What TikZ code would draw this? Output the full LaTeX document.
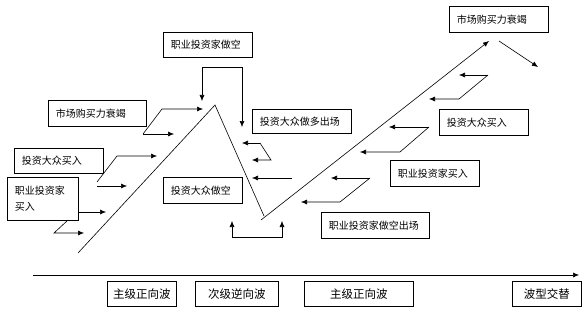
\documentclass[tikz,border=0pt]{standalone}
\usepackage{fontspec}
\setmainfont{Noto Sans CJK SC}
\usetikzlibrary{arrows.meta}
\begin{document}
\begin{tikzpicture}[x=1pt,y=-1pt,
  line width=0.6pt,
  arr/.style={-{Latex[length=6pt,width=5pt]}},
  lbox/.style={draw, anchor=north west, inner xsep=7.5pt, inner ysep=0pt, align=left, font=\fontsize{10}{16}\selectfont},
  bbox/.style={draw, anchor=north west, inner sep=0pt, align=center, minimum height=25pt, font=\fontsize{11.5}{14}\selectfont}]
\useasboundingbox (0,0) rectangle (588,310);
% boxes
\node[lbox, text width=74pt, minimum height=25pt] (A) at (163,32) {职业投资家做空};
\node[lbox, text width=83pt, minimum height=26pt] (B) at (48,100) {市场购买力衰竭};
\node[lbox, text width=84pt, minimum height=24pt] (C) at (252,109) {投资大众做多出场};
\node[lbox, text width=74pt, minimum height=25pt] (D) at (14,148) {投资大众买入};
\node[lbox, text width=56pt, minimum height=43pt] (E) at (7,177) {职业投资家\\买入};
\node[lbox, text width=64pt, minimum height=26pt] (F) at (163,177) {投资大众做空};
\node[lbox, text width=93pt, minimum height=26pt] (G) at (321,212) {职业投资家做空出场};
\node[lbox, text width=74pt, minimum height=26pt] (H) at (390,160) {职业投资家买入};
\node[lbox, text width=74pt, minimum height=26pt] (I) at (439,109) {投资大众买入};
\node[lbox, text width=84pt, minimum height=26pt] (J) at (449,6) {市场购买力衰竭};
% bottom boxes
\node[bbox, minimum width=69pt] (K1) at (107,281) {主级正向波};
\node[bbox, minimum width=83pt] (K2) at (195,281) {次级逆向波};
\node[bbox, minimum width=109pt] (K3) at (304,281) {主级正向波};
\node[bbox, minimum width=69pt] (K4) at (512,281) {波型交替};
% axis
\coordinate (ax0) at (33,275); \coordinate (ax1) at (579,275);
\draw[arr] (ax0) -- (ax1);
% main zigzag
\coordinate (z0) at (78,253); \coordinate (z1) at (215,105);
\coordinate (z2) at (264,216); \coordinate (z3) at (261,220);
\coordinate (z4) at (489,41);
\draw (z0) -- (z1) -- (z2);
\draw[arr] (z3) -- (z4);
% top right arrow
\coordinate (t0) at (499,41); \coordinate (t1) at (538,67);
\draw[arr] (t0) -- (t1);
% left group 1
\coordinate (a0) at (143,134); \coordinate (a1) at (162,109);
\coordinate (a2) at (203,109); \coordinate (a3) at (174,134);
\draw[arr] (a0) -- (a1) -- (a2);
\draw[arr] (a0) -- (a3);
% left group 2
\coordinate (b0) at (97,182); \coordinate (b1) at (117,156);
\coordinate (b2) at (157,156); \coordinate (b3) at (97,186);
\coordinate (b4) at (127,186);
\draw[arr] (b0) -- (b1) -- (b2);
\draw[arr] (b3) -- (b4);
% left group 3
\coordinate (c0) at (78,212); \coordinate (c1) at (106,212);
\coordinate (c2) at (68,220); \coordinate (c3) at (54,233);
\coordinate (c4) at (84,233);
\draw[arr] (c0) -- (c1);
\draw[arr] (c2) -- (c3) -- (c4);
% top bracket
\coordinate (d0) at (202,67); \coordinate (d1) at (242,67);
\coordinate (d2) at (202,101); \coordinate (d3) at (242,127);
\draw[arr] (d1) -- (d0) -- (d2);
\draw[arr] (d0) -- (d1) -- (d3);
% middle arrows
\coordinate (e0) at (260,143); \coordinate (e1) at (242,143);
\coordinate (e2) at (271,160); \coordinate (e3) at (252,160);
\draw[arr] (e0) -- (e1);
\draw[arr] (e0) -- (e2) -- (e3);
\coordinate (f0) at (292,178); \coordinate (f1) at (252,178);
\draw[arr] (f0) -- (f1);
% bottom bracket
\coordinate (g0) at (232,237); \coordinate (g1) at (282,237);
\coordinate (g2) at (232,221); \coordinate (g3) at (282,221);
\draw[arr] (g1) -- (g0) -- (g2);
\draw[arr] (g0) -- (g1) -- (g3);
% right groups
\coordinate (r10) at (488,75); \coordinate (r11) at (459,75);
\coordinate (r12) at (459,99); \coordinate (r13) at (429,99);
\draw[arr] (r10) -- (r11);
\draw[arr] (r10) -- (r12) -- (r13);
\coordinate (r20) at (429,127); \coordinate (r21) at (389,127);
\coordinate (r22) at (400,152); \coordinate (r23) at (360,152);
\draw[arr] (r20) -- (r21);
\draw[arr] (r20) -- (r22) -- (r23);
\coordinate (r30) at (370,178); \coordinate (r31) at (331,178);
\coordinate (r32) at (340,202); \coordinate (r33) at (301,202);
\draw[arr] (r30) -- (r31);
\draw[arr] (r30) -- (r32) -- (r33);
\end{tikzpicture}
\end{document}
